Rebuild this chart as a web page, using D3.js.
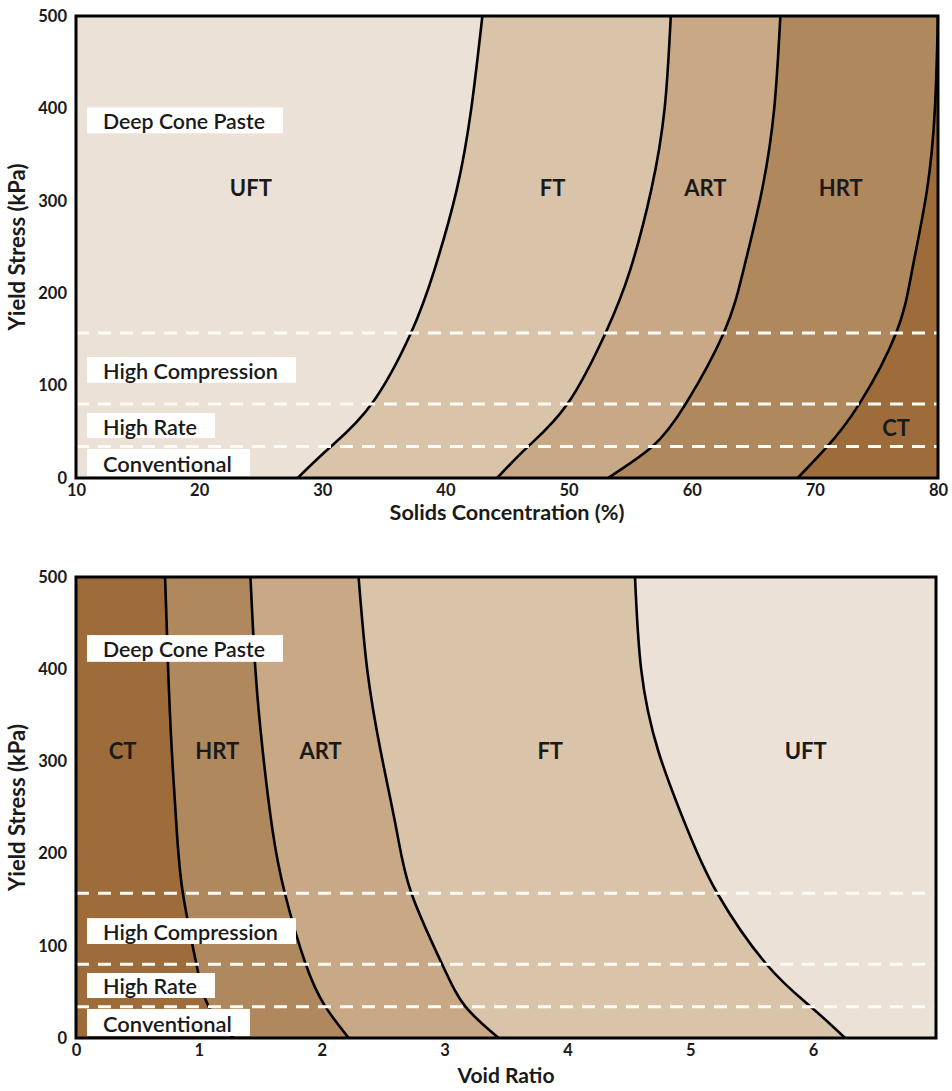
<!DOCTYPE html>
<html>
<head>
<meta charset="utf-8">
<script src="https://cdn.jsdelivr.net/npm/d3@7"></script>
<style>
  html, body { margin: 0; padding: 0; background: #ffffff; }
  svg { display: block; }
  text { font-family: Lato, "Open Sans", sans-serif; fill: #1a1a1a; }
</style>
</head>
<body>
<svg id="chart" width="952" height="1091"></svg>
<script>
// ---------------- DATA ----------------
const yieldTicks = [0, 100, 200, 300, 400, 500];
const solidsTicks = [10, 20, 30, 40, 50, 60, 70, 80];
const voidTicks = [0, 1, 2, 3, 4, 5, 6];

// yield stress (kPa) at which each boundary curve is sampled
const stressSamples = [0, 34, 80, 157, 225, 311, 400, 500];

// Top chart: boundary solids concentration (%) at each stress sample
const solidsUftFt  = [28.0, 30.7, 34.0, 37.2, 39.1, 40.9, 42.1, 43.0];
const solidsFtArt  = [44.2, 46.7, 49.9, 53.0, 55.0, 56.7, 57.8, 58.3];
const solidsArtHrt = [53.2, 56.8, 59.5, 62.6, 64.2, 65.7, 66.7, 67.2];
const solidsHrtCt  = [68.6, 71.0, 73.6, 76.6, 77.9, 79.1, 79.75, 80.0];

// Bottom chart: boundary void ratio at each stress sample
const voidCtHrt  = [1.28, 1.08, 0.98, 0.87, 0.82, 0.78, 0.75, 0.725];
const voidHrtArt = [2.22, 2.03, 1.87, 1.70, 1.60, 1.52, 1.46, 1.42];
const voidArtFt  = [3.44, 3.17, 2.98, 2.73, 2.61, 2.48, 2.37, 2.30];
const voidFtUft  = [6.26, 5.98, 5.62, 5.22, 4.98, 4.74, 4.60, 4.55];

// tailings categories
const zonesTop = ["UFT", "FT", "ART", "HRT", "CT"];
const zonesBottom = ["CT", "HRT", "ART", "FT", "UFT"];
// label anchor values (x value, yield stress)
const zoneLabelTopX = [24.2, 48.7, 61.1, 72.1, 76.6];
const zoneLabelTopY = [314, 314, 314, 314, 55];
const zoneLabelBottomX = [0.38, 1.15, 1.99, 3.86, 5.94];
const zoneLabelBottomY = [312, 312, 312, 312, 312];

// thickener process thresholds (kPa)
const processThresholds = [34, 80, 157];
const processNames = ["Deep Cone Paste", "High Compression", "High Rate", "Conventional"];
const processBoxTopTop    = [401, 131, 70.3, 31.4];
const processBoxTopBottom = [373, 103, 43.3, 2.2];
const processBoxBotTop    = [437, 130, 70.5, 31.5];
const processBoxBotBottom = [408, 102, 43.4, 2.2];

// ---------------- STYLE ----------------
const zoneColor = { UFT: "#EBE1D6", FT: "#D9C4AA", ART: "#C9A885", HRT: "#B0885E", CT: "#9E6C3A" };
const boxTextWidth = [162, 175, 94, 129];

const svg = d3.select("#chart");
let clipId = 0;

function fitText(sel, target) {
  const base = parseFloat(sel.style("font-size"));
  const w = sel.node().getComputedTextLength();
  sel.style("font-size", (base * target / w) + "px");
}

function drawPanel(cfg) {
  const g = svg.append("g");
  const x = d3.scaleLinear().domain(cfg.xDomain).range([cfg.left, cfg.right]);
  const y = d3.scaleLinear().domain([0, 500]).range([cfg.bottom, cfg.top]);
  const x0 = x(cfg.xDomain[0]), x1 = x(cfg.xDomain[1]);
  const yT = y(500), yB = y(0);

  const cid = "clip" + (clipId++);
  g.append("clipPath").attr("id", cid).append("rect")
    .attr("x", x0).attr("y", yT).attr("width", x1 - x0).attr("height", yB - yT);
  const plot = g.append("g").attr("clip-path", `url(#${cid})`);

  // background = lightest zone
  plot.append("rect")
    .attr("x", x0).attr("y", yT).attr("width", x1 - x0).attr("height", yB - yT)
    .attr("fill", zoneColor[cfg.bgZone]);

  const curveType = d3.curveNatural;

  // zone fills: each curve to the far edge
  cfg.curves.forEach((vals, i) => {
    const pts = stressSamples.map((s, k) => ({ s, v: vals[k] }));
    const edge = x(cfg.edgeValue) + (cfg.edgeValue === cfg.xDomain[1] ? 5 : -5);
    const area = d3.area()
      .curve(curveType)
      .y(d => y(d.s))
      .x0(d => x(d.v))
      .x1(() => edge);
    plot.append("path").datum(pts).attr("d", area).attr("fill", zoneColor[cfg.fillZones[i]]);
  });

  // boundary curves
  cfg.curves.forEach(vals => {
    const pts = stressSamples.map((s, k) => ({ s, v: vals[k] }));
    const line = d3.line().curve(curveType).x(d => x(d.v)).y(d => y(d.s));
    plot.append("path").datum(pts).attr("d", line)
      .attr("fill", "none").attr("stroke", "#000").attr("stroke-width", 2.6);
  });

  // dashed threshold lines
  g.selectAll(".thr").data(processThresholds).enter().append("line")
    .attr("x1", x0).attr("x2", x1 + 2)
    .attr("y1", d => y(d)).attr("y2", d => y(d))
    .attr("stroke", "#FFFBF4").attr("stroke-width", 3)
    .attr("stroke-dasharray", "13,9");

  // zone labels
  cfg.zones.forEach((z, i) => {
    g.append("text")
      .attr("x", x(cfg.labelX[i])).attr("y", y(cfg.labelY[i]))
      .attr("text-anchor", "middle").attr("dominant-baseline", "central")
      .style("font-size", "22px").style("font-weight", 700)
      .text(z);
  });

  // process boxes
  processNames.forEach((p, i) => {
    const bx = cfg.left + 11;
    const yt = y(cfg.boxTop[i]), yb = y(cfg.boxBottom[i]);
    const rect = g.append("rect").attr("fill", "#ffffff");
    const t = g.append("text")
      .attr("x", bx + 16).attr("y", (yt + yb) / 2 + 1)
      .attr("dominant-baseline", "central")
      .style("font-size", "20px").style("font-weight", 600)
      .text(p);
    fitText(t, boxTextWidth[i]);
    const w = t.node().getComputedTextLength();
    rect.attr("x", bx).attr("y", yt).attr("width", w + 34).attr("height", yb - yt);
  });

  // frame
  g.append("rect")
    .attr("x", x0).attr("y", yT).attr("width", x1 - x0).attr("height", yB - yT)
    .attr("fill", "none").attr("stroke", "#000").attr("stroke-width", 3);

  // axes (labels only)
  const yAxis = d3.axisLeft(y).tickValues(yieldTicks).tickSize(0).tickPadding(9);
  const ya = g.append("g").attr("transform", `translate(${cfg.left},0)`).call(yAxis);
  ya.select(".domain").remove();
  ya.selectAll("text").style("font-size", "16.5px").style("font-weight", 700)
    .style("font-family", "Lato, sans-serif").attr("fill", "#1a1a1a");

  const xAxis = d3.axisBottom(x).tickValues(cfg.xTicks).tickFormat(d3.format("d"))
    .tickSize(0).tickPadding(6);
  const xa = g.append("g").attr("transform", `translate(0,${cfg.bottom})`).call(xAxis);
  xa.select(".domain").remove();
  xa.selectAll("text").style("font-size", "16.5px").style("font-weight", 700)
    .style("font-family", "Lato, sans-serif").attr("fill", "#1a1a1a");

  // titles
  const yt = g.append("text")
    .attr("transform", `translate(${cfg.left - 60},${(cfg.top + cfg.bottom) / 2}) rotate(-90)`)
    .attr("text-anchor", "middle").attr("dominant-baseline", "central")
    .style("font-size", "20px").style("font-weight", 700)
    .text("Yield Stress (kPa)");
  fitText(yt, 167);
  const xt = g.append("text")
    .attr("x", (cfg.left + cfg.right) / 2).attr("y", cfg.bottom + cfg.titleOffset)
    .attr("text-anchor", "middle")
    .style("font-size", "20px").style("font-weight", 700)
    .text(cfg.xTitle);
  fitText(xt, cfg.xTitleWidth);
}

drawPanel({
  left: 76, right: 938, top: 16, bottom: 478,
  xDomain: [10, 80], xTicks: solidsTicks, xTitle: "Solids Concentration (%)",
  xTitleWidth: 235, titleOffset: 42,
  bgZone: "UFT",
  curves: [solidsUftFt, solidsFtArt, solidsArtHrt, solidsHrtCt],
  fillZones: ["FT", "ART", "HRT", "CT"],
  edgeValue: 80,
  zones: zonesTop, labelX: zoneLabelTopX, labelY: zoneLabelTopY,
  boxTop: processBoxTopTop, boxBottom: processBoxTopBottom
});

drawPanel({
  left: 76, right: 936, top: 577, bottom: 1038,
  xDomain: [0, 7], xTicks: voidTicks, xTitle: "Void Ratio",
  xTitleWidth: 97, titleOffset: 45,
  bgZone: "UFT",
  curves: [voidFtUft, voidArtFt, voidHrtArt, voidCtHrt],
  fillZones: ["FT", "ART", "HRT", "CT"],
  edgeValue: 0,
  zones: zonesBottom, labelX: zoneLabelBottomX, labelY: zoneLabelBottomY,
  boxTop: processBoxBotTop, boxBottom: processBoxBotBottom
});
</script>
</body>
</html>
